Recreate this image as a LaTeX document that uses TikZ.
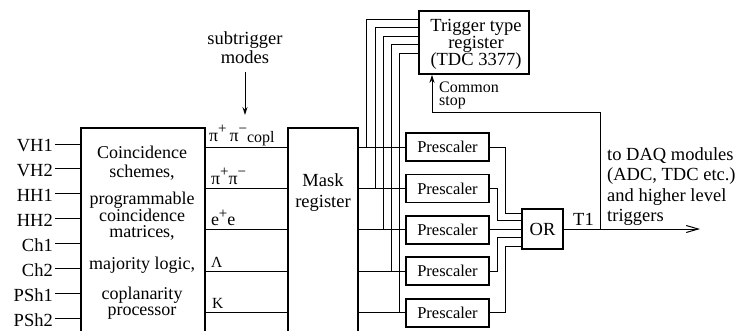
\documentclass[tikz,border=0pt]{standalone}
\usepackage{fontspec}
\setmainfont{Liberation Serif}
\usetikzlibrary{arrows.meta,calc,positioning}
\newcommand{\trigsup}[1]{\raisebox{0.42em}{\fontsize{15}{15}\selectfont #1}}
\tikzset{
  trig block/.style={
    draw,
    line width=1.8pt,
    inner sep=0pt,
    align=center,
    font=\fontsize{18.5}{17}\selectfont
  },
  trig prescaler/.style={
    draw,
    line width=1.8pt,
    inner sep=0pt,
    minimum width=83pt,
    minimum height=28pt,
    font=\fontsize{16.5}{18}\selectfont
  },
  trig text/.style={
    inner sep=0pt,
    align=center,
    font=\fontsize{18}{16}\selectfont
  },
  trig mode/.style={
    anchor=base west,
    inner sep=0pt,
    font=\fontsize{18}{18}\selectfont
  },
  trig wire/.style={line width=1pt},
  trig arrow/.style={-{Stealth[length=8pt,width=5pt]},line width=1pt},
  trig out/.style={-{Straight Barb[length=12pt,width=7pt]},line width=1pt}
}

\begin{document}
\begin{tikzpicture}[x=1pt,y=-1pt,node distance=11.6pt]
  \useasboundingbox (0,0) rectangle (745,330);

  % main blocks
  \node[trig block,minimum width=124pt,minimum height=240pt,anchor=north west] (coinc) at (80,127) {};
  \node[trig block,minimum width=70pt,minimum height=240pt,anchor=north west] (mask) at (287,127) {};
  \node[trig block,minimum width=110pt,minimum height=63pt,anchor=north west] (ttr) at (418,10) {};
  \node[trig block,minimum width=41pt,minimum height=40pt] (orgate) at (542.5,229) {OR};

  \node[trig text] (cstxt1) at (142,163) {Coincidence\\[3pt]schemes,};
  \node[trig text] (cstxt2) at (142,216) {programmable\\coincidence\\matrices,};
  \node[trig text] (cstxt3) at (142,265) {majority logic,};
  \node[trig text] (cstxt4) at (142,303) {coplanarity\\processor};
  \node[trig text,font=\fontsize{18.5}{16}\selectfont] (masktxt) at (323,193) {Mask\\[5pt]register};
  \node[trig text,font=\fontsize{18.5}{17}\selectfont] (ttrtxt) at (476,44.5) {Trigger type\\register\\(TDC 3377)};

  % prescalers
  \node[trig prescaler] (ps1) at (447.5,147) {Prescaler};
  \node[trig prescaler,below=of ps1] (ps2) {Prescaler};
  \node[trig prescaler,below=of ps2] (ps3) {Prescaler};
  \node[trig prescaler,below=of ps3] (ps4) {Prescaler};
  \node[trig prescaler,below=of ps4] (ps5) {Prescaler};

  % inputs
  \foreach \name [count=\i] in {VH1,VH2,HH1,HH2,Ch1,Ch2,PSh1,PSh2} {
    \node[trig text,font=\fontsize{18.5}{18}\selectfont,anchor=east,inner sep=2pt] (in\i) at (55,{146+24.9*(\i-1)}) {\name};
    \draw[trig wire] ([yshift=2pt]in\i.east) -- ([yshift=2pt]in\i.east -| coinc.west);
  }

  % subtrigger rows
  \foreach \i in {1,...,5} {
    \draw[trig wire] (coinc.east |- ps\i) -- (mask.west |- ps\i);
    \draw[trig wire] (mask.east |- ps\i) -- (ps\i.west);
    \draw[trig wire] ($(mask.east |- ps\i)+({8+8.25*(\i-1)},0)$) |- ($(ttr.north west)+(0,{9+8.5*(\i-1)})$);
  }
  \node[trig mode] (md1) at ($(coinc.east |- ps1)+(3,-6)$) {π\trigsup{+}\,π\trigsup{−}\raisebox{-1.5pt}{\fontsize{16}{16}\selectfont copl}};
  \node[trig mode] (md2) at ($(coinc.east |- ps2)+(5,-4)$) {π\trigsup{+}π\trigsup{−}};
  \node[trig mode] (md3) at ($(coinc.east |- ps3)+(5,-4)$) {e\trigsup{+}e};
  \node[trig mode,font=\fontsize{15.5}{15.5}\selectfont] (md4) at ($(coinc.east |- ps4)+(5,-4)$) {Λ};
  \node[trig mode,font=\fontsize{15.5}{15.5}\selectfont] (md5) at ($(coinc.east |- ps5)+(6,-4)$) {K};

  % prescalers to OR
  \foreach \i/\dx/\dy in {1/16/-16,2/8/-9,3/0/0,4/8/8,5/16/17}
    \draw[trig wire] (ps\i.east) -- ++(\dx,0) |- ($(orgate.west)+(0,\dy)$);

  % output and common stop
  \coordinate (tap) at ($(orgate.east)+(37,0)$);
  \coordinate (daqend) at (700,229);
  \coordinate (stopbend) at (432,112);
  \draw[trig out] (orgate.east) -- (daqend);
  \draw[trig arrow] (tap) |- (stopbend) -- (stopbend |- ttr.south);
  \node[trig text,font=\fontsize{18.5}{18}\selectfont,anchor=south] (t1) at (583.5,226) {T1};
  \node[trig text,align=left,anchor=north west,font=\fontsize{18.5}{20.5}\selectfont] (daq) at (607,147) {to DAQ modules\\(ADC, TDC etc.)\\and higher level\\triggers};
  \node[inner sep=0pt,align=left,anchor=north west,font=\fontsize{16}{13}\selectfont] (stoptxt) at (439,82) {Common\\stop};

  % subtrigger modes
  \node[trig text,font=\fontsize{18.5}{19}\selectfont] (modes) at (245,48) {subtrigger\\modes};
  \coordinate (modesend) at (245,115);
  \draw[trig arrow,shorten <=8pt] (modes.south) -- (modesend);
\end{tikzpicture}
\end{document}
